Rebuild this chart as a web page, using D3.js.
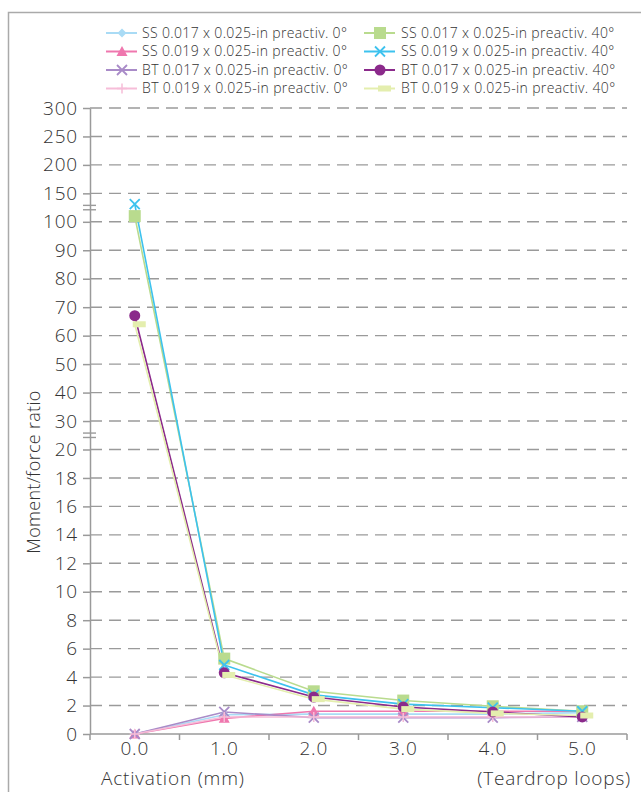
<!DOCTYPE html>
<html>
<head>
<meta charset="utf-8">
<script src="https://cdn.jsdelivr.net/npm/d3@7"></script>
<style>
  html, body { margin: 0; padding: 0; background: #fff; }
  svg { display: block; font-family: "Open Sans", "Noto Sans", sans-serif; }
</style>
</head>
<body>
<svg id="chart" width="641" height="792"></svg>
<script>
// Activation steps (mm) along the x axis
const categories = ["0.0", "1.0", "2.0", "3.0", "4.0", "5.0"];

// Y tick values; the axis is broken between 20–30 and 100–150
const yTicks = [0, 2, 4, 6, 8, 10, 12, 14, 16, 18, 20, 30, 40, 50, 60, 70, 80, 90, 100, 150, 200, 250, 300];
const yBreaks = [25, 125];

// Moment/force ratio per series
const ss017_0  = [0, 1.35, 1.4, 1.4, 1.4, 1.5];
const ss019_0  = [0, 1.1, 1.6, 1.6, 1.6, 1.6];
const bt017_0  = [0, 1.55, 1.15, 1.15, 1.15, 1.2];
const bt019_0  = [0, 1.2, 1.2, 1.2, 1.2, 1.2];
const ss017_40 = [110, 5.3, 3.0, 2.35, 1.95, 1.6];
const ss019_40 = [131, 4.85, 2.75, 2.1, 1.85, 1.6];
const bt017_40 = [67, 4.3, 2.6, 1.9, 1.55, 1.2];
const bt019_40 = [64, 4.15, 2.45, 1.75, 1.45, 1.3];

const seriesNames = [
  "SS 0.017 x 0.025-in preactiv. 0°",
  "SS 0.019 x 0.025-in preactiv. 0°",
  "BT 0.017 x 0.025-in preactiv. 0°",
  "BT 0.019 x 0.025-in preactiv. 0°",
  "SS 0.017 x 0.025-in preactiv. 40°",
  "SS 0.019 x 0.025-in preactiv. 40°",
  "BT 0.017 x 0.025-in preactiv. 40°",
  "BT 0.019 x 0.025-in preactiv. 40°"
];
const seriesValues = [ss017_0, ss019_0, bt017_0, bt019_0, ss017_40, ss019_40, bt017_40, bt019_40];
const seriesColors = ["#a9dbf5", "#ef77ae", "#a98bc8", "#f6bdd8", "#b9db8e", "#3dc2ee", "#8b2a8b", "#e4eeae"];
const seriesMarkers = ["diamond", "triangle", "times", "plus", "square", "times", "circle", "dash"];

const series = seriesNames.map((name, i) => ({
  name, values: seriesValues[i], color: seriesColors[i], marker: seriesMarkers[i]
}));

const svg = d3.select("#chart");
const gridColor = "#9a9a9a";
const textColor = "#333";
const bigFont = 19, bigSpacing = 0.8;

// Outer frame
svg.append("path")
  .attr("d", "M8.5,792 L8.5,12.5 L641,12.5")
  .attr("fill", "none").attr("stroke", "#aaa").attr("stroke-width", 1.5);

const plotLeft = 90, plotRight = 627;
const x = d3.scaleBand().domain(categories).range([plotLeft, plotRight]);
const cx = c => x(c) + x.bandwidth() / 2;

// Piecewise scale: equal spacing per tick across the three segments
const y = d3.scaleLinear().domain([0, 20, 100, 300]).range([734, 449.5, 221.8, 108]);

// Dashed gridlines
svg.append("g").selectAll("line")
  .data(yTicks.filter(v => v > 0))
  .join("line")
  .attr("x1", plotLeft).attr("x2", plotRight)
  .attr("y1", d => y(d)).attr("y2", d => y(d))
  .attr("stroke", gridColor).attr("stroke-width", 1.4)
  .attr("stroke-dasharray", "12,7");

// Y axis
const yAxis = svg.append("g")
  .attr("transform", `translate(${plotLeft},0)`)
  .call(d3.axisLeft(y).tickValues(yTicks).tickSize(7).tickPadding(5).tickSizeOuter(0));
yAxis.select(".domain").attr("stroke", gridColor).attr("stroke-width", 1.5);
yAxis.selectAll(".tick line").attr("stroke", gridColor).attr("stroke-width", 1.5);
yAxis.selectAll(".tick text")
  .attr("fill", textColor).attr("font-size", bigFont).attr("font-weight", 300)
  .attr("letter-spacing", bigSpacing)
  .style("font-family", "'Open Sans', sans-serif");

// Axis break marks
yBreaks.forEach(v => {
  [-2.2, 2.2].forEach(off => {
    svg.append("line")
      .attr("x1", plotLeft - 7).attr("x2", plotLeft + 6)
      .attr("y1", y(v) + off).attr("y2", y(v) + off)
      .attr("stroke", gridColor).attr("stroke-width", 1.4);
  });
});

// X axis line and boundary ticks
svg.append("line")
  .attr("x1", plotLeft).attr("x2", plotRight)
  .attr("y1", y(0)).attr("y2", y(0))
  .attr("stroke", gridColor).attr("stroke-width", 1.5);
const bounds = categories.map(c => x(c)).concat([plotRight]);
svg.append("g").selectAll("line")
  .data(bounds)
  .join("line")
  .attr("x1", d => d).attr("x2", d => d)
  .attr("y1", y(0)).attr("y2", y(0) + 6)
  .attr("stroke", gridColor).attr("stroke-width", 1.5);

const xAxis = svg.append("g")
  .attr("transform", `translate(0,${y(0)})`)
  .call(d3.axisBottom(x).tickSize(0).tickPadding(8));
xAxis.select(".domain").remove();
xAxis.selectAll(".tick text")
  .attr("fill", textColor).attr("font-size", bigFont).attr("font-weight", 300)
  .attr("letter-spacing", bigSpacing)
  .style("font-family", "'Open Sans', sans-serif");

// Axis titles
svg.append("text")
  .attr("x", 101).attr("y", 785)
  .attr("fill", textColor).attr("font-size", bigFont).attr("font-weight", 300)
  .attr("letter-spacing", bigSpacing)
  .text("Activation (mm)");
svg.append("text")
  .attr("x", 631).attr("y", 785).attr("text-anchor", "end")
  .attr("fill", textColor).attr("font-size", bigFont).attr("font-weight", 300)
  .attr("letter-spacing", bigSpacing)
  .text("(Teardrop loops)");
svg.append("text")
  .attr("transform", "translate(40,472) rotate(-90)")
  .attr("text-anchor", "middle")
  .attr("fill", textColor).attr("font-size", 18).attr("font-weight", 300)
  .attr("letter-spacing", 0.3)
  .text("Moment/force ratio");

// Marker drawing
function drawMarker(g, type, color) {
  switch (type) {
    case "diamond":
      g.append("path").attr("d", "M0,-4.5L4.5,0L0,4.5L-4.5,0Z").attr("fill", color);
      break;
    case "triangle":
      g.append("path").attr("d", "M0,-5.5L5.5,4.5L-5.5,4.5Z").attr("fill", color);
      break;
    case "times":
      g.append("path").attr("d", "M-5,-5L5,5M-5,5L5,-5")
        .attr("stroke", color).attr("stroke-width", 1.8).attr("fill", "none");
      break;
    case "plus":
      g.append("path").attr("d", "M-5,0L5,0M0,-5L0,5")
        .attr("stroke", color).attr("stroke-width", 1.5).attr("fill", "none");
      break;
    case "square":
      g.append("rect").attr("x", -6).attr("y", -6).attr("width", 12).attr("height", 12).attr("fill", color);
      break;
    case "circle":
      g.append("circle").attr("r", 5.5).attr("fill", color);
      break;
    case "dash":
      g.append("rect").attr("x", -2).attr("y", -3).attr("width", 13).attr("height", 6).attr("fill", color);
      break;
  }
}

// Series lines and markers
const line = d3.line().x((d, i) => cx(categories[i])).y(d => y(d));
series.forEach(s => {
  svg.append("path")
    .attr("d", line(s.values))
    .attr("fill", "none").attr("stroke", s.color).attr("stroke-width", 1.6);
});
series.forEach(s => {
  s.values.forEach((v, i) => {
    const g = svg.append("g").attr("transform", `translate(${cx(categories[i])},${y(v)})`);
    drawMarker(g, s.marker, s.color);
  });
});

// Legend: two columns of four
const legendCols = [{ lx: 106, tx: 142 }, { lx: 364, tx: 401 }];
const legendRows = [33, 51.5, 70, 88.5];
series.forEach((s, i) => {
  const col = legendCols[Math.floor(i / 4)];
  const ry = legendRows[i % 4];
  svg.append("line")
    .attr("x1", col.lx).attr("x2", col.lx + 31)
    .attr("y1", ry).attr("y2", ry)
    .attr("stroke", s.color).attr("stroke-width", 2);
  const g = svg.append("g").attr("transform", `translate(${col.lx + 16},${ry})`);
  drawMarker(g, s.marker, s.color);
  svg.append("text")
    .attr("x", col.tx).attr("y", ry).attr("dy", "0.35em")
    .attr("fill", textColor).attr("font-size", 14).attr("font-weight", 300)
    .attr("letter-spacing", 0.35)
    .text(s.name);
});
</script>
</body>
</html>
